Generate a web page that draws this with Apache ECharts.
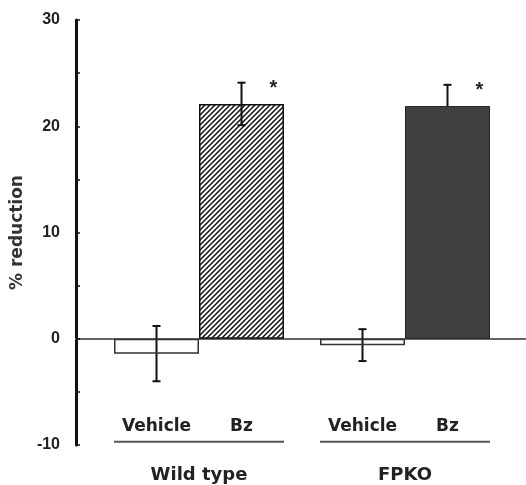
<!DOCTYPE html>
<html>
<head>
<meta charset="utf-8">
<script src="https://cdn.jsdelivr.net/npm/echarts@6/dist/echarts.min.js"></script>
<style>
  html, body { margin: 0; padding: 0; background: #fff; }
  #chart { width: 526px; height: 485px; }
</style>
</head>
<body>
<div id="chart"></div>
<script>
// values
var groups = ['Wild type', 'FPKO'];
var treatments = ['Vehicle', 'Bz'];
var vehicleMean = [-1.4, -0.6];
var vehicleErr = [2.6, 1.5];
var bzMean = [22.1, 21.9];
var bzErr = [2.0, 2.0];
var bzMark = ['*', '*'];
var yMin = -10, yMax = 30, yStep = 5;

var FONT = '"Liberation Sans", Arial, sans-serif';
var WIDE = '"DejaVu Sans", sans-serif';
var HALF = 42.5; // half a bar, bars sit side by side

// diagonal hatch, transparent so the error bar shows through
function hatch() {
  var c = document.createElement('canvas');
  c.width = 5; c.height = 5;
  var g = c.getContext('2d');
  g.strokeStyle = '#111';
  g.lineWidth = 1.5;
  g.beginPath();
  g.moveTo(0, 5); g.lineTo(5, 0);
  g.moveTo(-1, 1); g.lineTo(1, -1);
  g.moveTo(4, 6); g.lineTo(6, 4);
  g.stroke();
  return c;
}

function errSeries(means, errs, side) {
  return {
    type: 'custom',
    xAxisIndex: 0, yAxisIndex: 0,
    z: 1,
    data: means.map(function (m, i) { return [i, m - errs[i], m + errs[i]]; }),
    renderItem: function (params, api) {
      var lo = api.coord([api.value(0), api.value(1)]);
      var hi = api.coord([api.value(0), api.value(2)]);
      var x = lo[0] + side * HALF;
      var st = { stroke: '#111', lineWidth: 2 };
      return {
        type: 'group',
        children: [
          { type: 'line', shape: { x1: x, y1: hi[1], x2: x, y2: lo[1] }, style: st },
          { type: 'line', shape: { x1: x - 4, y1: hi[1], x2: x + 4, y2: hi[1] }, style: st },
          { type: 'line', shape: { x1: x - 4, y1: lo[1], x2: x + 4, y2: lo[1] }, style: st }
        ]
      };
    }
  };
}

var chart = echarts.init(document.getElementById('chart'));
chart.setOption({
  backgroundColor: '#fff',
  animation: false,
  grid: [
    { left: 96, right: 18, top: 20, bottom: 40 },
    { left: 76, right: 0, top: 20, bottom: 40 }
  ],
  xAxis: [{
    gridIndex: 0,
    type: 'category',
    data: groups,
    axisLine: { show: false, onZero: false },
    axisTick: { show: false },
    axisLabel: { margin: 21, fontSize: 18, fontWeight: 'bold', color: '#222', fontFamily: WIDE }
  }, {
    gridIndex: 1,
    type: 'value',
    min: 0, max: 1,
    axisLine: { show: true, onZero: true, lineStyle: { color: '#666', width: 2 } },
    axisTick: { show: false },
    axisLabel: { show: false },
    splitLine: { show: false }
  }],
  yAxis: [{
    gridIndex: 0,
    type: 'value',
    min: yMin, max: yMax,
    show: false
  }, {
    gridIndex: 1,
    type: 'value',
    min: yMin, max: yMax, interval: yStep,
    name: '% reduction',
    nameLocation: 'middle',
    nameGap: 50,
    nameTextStyle: { fontSize: 17, fontWeight: 'bold', color: '#333', fontFamily: WIDE },
    axisLine: { show: true, lineStyle: { color: '#111', width: 3 } },
    axisTick: { show: true, inside: true, length: 4, lineStyle: { color: '#111', width: 1.5 } },
    axisLabel: {
      margin: 16, fontSize: 16, fontWeight: 'bold', color: '#222', fontFamily: FONT,
      formatter: function (v) { return v % 10 === 0 ? v : ''; }
    },
    splitLine: { show: false }
  }],
  series: [{
    name: treatments[0],
    type: 'bar',
    xAxisIndex: 0, yAxisIndex: 0,
    z: 2,
    barWidth: 85,
    barGap: '0%',
    data: vehicleMean,
    itemStyle: { color: 'rgba(255,255,255,0)', borderColor: '#333', borderWidth: 1.5 }
  }, {
    name: treatments[1],
    type: 'bar',
    xAxisIndex: 0, yAxisIndex: 0,
    z: 2,
    barWidth: 85,
    barGap: '0%',
    data: bzMean.map(function (v, i) {
      return {
        value: v,
        itemStyle: i === 0
          ? { color: { image: hatch(), repeat: 'repeat' }, borderColor: '#111', borderWidth: 1.5 }
          : { color: '#404040', borderColor: '#222', borderWidth: 1 }
      };
    })
  },
  errSeries(vehicleMean, vehicleErr, -1),
  errSeries(bzMean, bzErr, 1),
  {
    // significance marks
    type: 'custom',
    xAxisIndex: 0, yAxisIndex: 0,
    z: 6,
    data: bzMean.map(function (m, i) { return [i, m + bzErr[i]]; }),
    renderItem: function (params, api) {
      var p = api.coord([api.value(0), api.value(1)]);
      return {
        type: 'text',
        style: {
          x: p[0] + HALF + 32, y: p[1] + 6,
          text: bzMark[params.dataIndex],
          fontSize: 20, fontWeight: 'bold', fontFamily: FONT,
          fill: '#222', align: 'center', verticalAlign: 'middle'
        }
      };
    }
  }, {
    // treatment labels with the underline of each group
    type: 'custom',
    xAxisIndex: 0, yAxisIndex: 0,
    z: 6,
    data: groups.map(function (g, i) { return [i]; }),
    renderItem: function (params, api) {
      var t = api.coord([api.value(0), -8.3]);
      var u = api.coord([api.value(0), -9.7]);
      var ts = { fontSize: 17, fontWeight: 'bold', fontFamily: WIDE, fill: '#222', align: 'center', verticalAlign: 'middle' };
      return {
        type: 'group',
        children: [
          { type: 'text', style: Object.assign({ x: t[0] - HALF, y: t[1], text: treatments[0] }, ts) },
          { type: 'text', style: Object.assign({ x: t[0] + HALF, y: t[1], text: treatments[1] }, ts) },
          { type: 'line', shape: { x1: u[0] - 2 * HALF, y1: u[1], x2: u[0] + 2 * HALF, y2: u[1] },
            style: { stroke: '#555', lineWidth: 2 } }
        ]
      };
    }
  }]
});
</script>
</body>
</html>
